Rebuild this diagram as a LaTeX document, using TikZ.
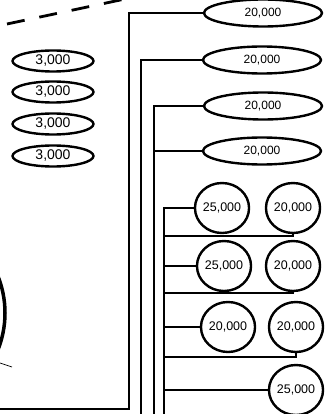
\documentclass[tikz,border=0pt]{standalone}
\usepackage{fontspec}
\setmainfont{Liberation Sans}
\usetikzlibrary{shapes.geometric}
\begin{document}
\begin{tikzpicture}[x=1pt,y=-1pt,line width=2.2pt,
  bigell/.style={ellipse,draw,line width=2.4pt,minimum width=118pt,minimum height=27pt,inner sep=0pt,font=\fontsize{12}{12}\selectfont},
  smallell/.style={ellipse,draw,line width=2.4pt,minimum width=81pt,minimum height=21pt,inner sep=0pt,font=\fontsize{14}{14}\selectfont},
  circ/.style={ellipse,draw,line width=2.4pt,minimum width=47pt,minimum height=50pt,inner sep=0pt,font=\fontsize{12.5}{12}\selectfont}]
\useasboundingbox (0,0) rectangle (326,414);
\clip (0,0) rectangle (326,414);
% right ellipses
\node[bigell] (E1) at (263,13) {20,000};
\node[bigell] (E2) at (262,60) {20,000};
\node[bigell] (E3) at (263,106) {20,000};
\node[bigell] (E4) at (262,151) {20,000};
% left ellipses
\node[smallell] (S1) at (53,61) {3,000};
\node[smallell] (S2) at (53,92) {3,000};
\node[smallell] (S3) at (53,124) {3,000};
\node[smallell] (S4) at (53,156) {3,000};
% circles
\node[circ] (C1) at (222,208) {25,000};
\node[circ] (C2) at (293,208) {20,000};
\node[circ] (C3) at (224,266) {25,000};
\node[circ] (C4) at (293,266) {20,000};
\node[circ] (C5) at (228,327) {20,000};
\node[circ] (C6) at (296,327) {20,000};
\node[circ] (C7) at (296,390) {25,000};
% line x positions
\coordinate (L1) at (129,0);
\coordinate (L2) at (141,0);
\coordinate (L3) at (154,0);
\coordinate (L4) at (164,0);
\coordinate (bot) at (0,416);
\coordinate (b1) at (0,409);
% connectors
\draw (b1) -| (L1 |- E1.west) -- (E1.west);
\draw (L2 |- bot) -- (L2 |- E2.west) -- (E2.west);
\draw (L3 |- bot) -- (L3 |- E3.west) -- (E3.west);
\draw (L3 |- E4.west) -- (E4.west);
\draw (L4 |- bot) -- (L4 |- C1.west) -- (C1.west);
\coordinate (h1) at (164,236);
\coordinate (h2) at (164,293);
\coordinate (h3) at (164,357);
\draw (h1) -| (C2.south);
\draw (L4 |- C3.west) -- (C3.west);
\draw (h2) -| (C4.south);
\draw (L4 |- C5.west) -- (C5.west);
\draw (h3) -| (C6.south);
\draw (L4 |- C7.west) -- (C7.west);
% dashed line
\coordinate (d1) at (7,24);
\coordinate (d2) at (125,-1);
\draw[line width=2.8pt,dash pattern=on 18pt off 15pt] (d1) -- (d2);
% big arc at lower left
\draw[line width=3.5pt] (-94,313) circle (99);
\coordinate (t1) at (0,363);
\coordinate (t2) at (12,367);
\draw[line width=0.7pt] (t1) -- (t2);
\end{tikzpicture}
\end{document}
